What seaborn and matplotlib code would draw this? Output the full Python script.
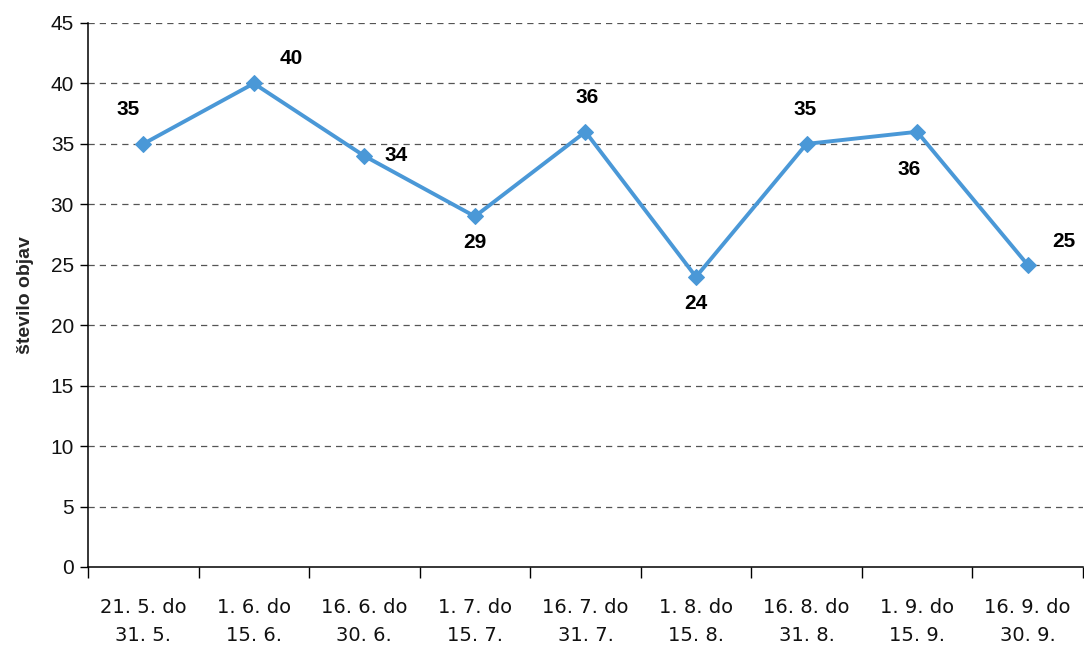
import matplotlib
matplotlib.use("Agg")
import matplotlib.pyplot as plt
from matplotlib.ticker import FixedLocator, NullFormatter, FixedFormatter
import numpy as np
import pandas as pd
import seaborn as sns

# Two-week reporting periods and number of publications per period
periods = ["21. 5. do\n31. 5.", "1. 6. do\n15. 6.", "16. 6. do\n30. 6.",
           "1. 7. do\n15. 7.", "16. 7. do\n31. 7.", "1. 8. do\n15. 8.",
           "16. 8. do\n31. 8.", "1. 9. do\n15. 9.", "16. 9. do\n30. 9."]
counts = [35, 40, 34, 29, 36, 24, 35, 36, 25]
y_ticks = [0, 5, 10, 15, 20, 25, 30, 35, 40, 45]

# label offsets (points) relative to each marker
label_offsets = [(-11, 25), (27, 18), (23, 0), (0, -19), (1, 25),
                 (0, -19), (-1, 25), (-6, -27), (26, 17)]

sns.set_theme(style="white")
plt.rcParams["font.family"] = ["Liberation Sans", "DejaVu Sans"]

df = pd.DataFrame({"obdobje": np.arange(len(periods)), "objave": counts})

fig = plt.figure(figsize=(10.84, 6.5), dpi=100)
ax = fig.add_axes([88 / 1084, 1 - 567 / 650, 1 - 88 / 1084 - 0.001, (567 - 23) / 650])

line_color = "#4a98d7"
sns.lineplot(data=df, x="obdobje", y="objave", ax=ax, color=line_color,
             linewidth=2.8, marker="D", markersize=8, markeredgecolor=line_color,
             sort=False, zorder=3)

for i, (v, off) in enumerate(zip(counts, label_offsets)):
    ax.annotate(str(v), (i, v), xytext=off, textcoords="offset points",
                ha="center", va="center", fontsize=15, fontweight="bold",
                color="black")

ax.set_xlim(-0.5, len(periods) - 0.5)
ax.set_ylim(0, 45)
ax.set_yticks(y_ticks)
ax.set_yticklabels([str(t) for t in y_ticks])
for t in y_ticks[1:]:
    ax.axhline(t, color="#555555", linestyle=(0, (5, 4)), linewidth=0.9, zorder=1)

# category boundaries as ticks, labels centred between them
ax.xaxis.set_major_locator(FixedLocator(np.arange(-0.5, len(periods), 1.0)))
ax.xaxis.set_major_formatter(NullFormatter())
ax.xaxis.set_minor_locator(FixedLocator(np.arange(len(periods))))
ax.xaxis.set_minor_formatter(FixedFormatter(periods))
ax.tick_params(axis="x", which="major", direction="out", length=8, width=1,
               color="black", bottom=True)
ax.tick_params(axis="x", which="minor", length=0, pad=22, labelsize=14,
               labelcolor="#111111")
for lbl in ax.xaxis.get_minorticklabels():
    lbl.set_family(["DejaVu Sans"])
    lbl.set_linespacing(1.65)
ax.tick_params(axis="y", direction="out", length=6, width=1, color="black",
               left=True, labelsize=15, pad=4, labelcolor="#111111")

ax.set_xlabel("")
ax.set_ylabel("število objav", fontsize=14, fontweight="bold", labelpad=12)

for side in ["top", "right"]:
    ax.spines[side].set_visible(False)
for side in ["left", "bottom"]:
    ax.spines[side].set_color("black")
    ax.spines[side].set_linewidth(1.1)

fig.savefig("out.png", dpi=100)
